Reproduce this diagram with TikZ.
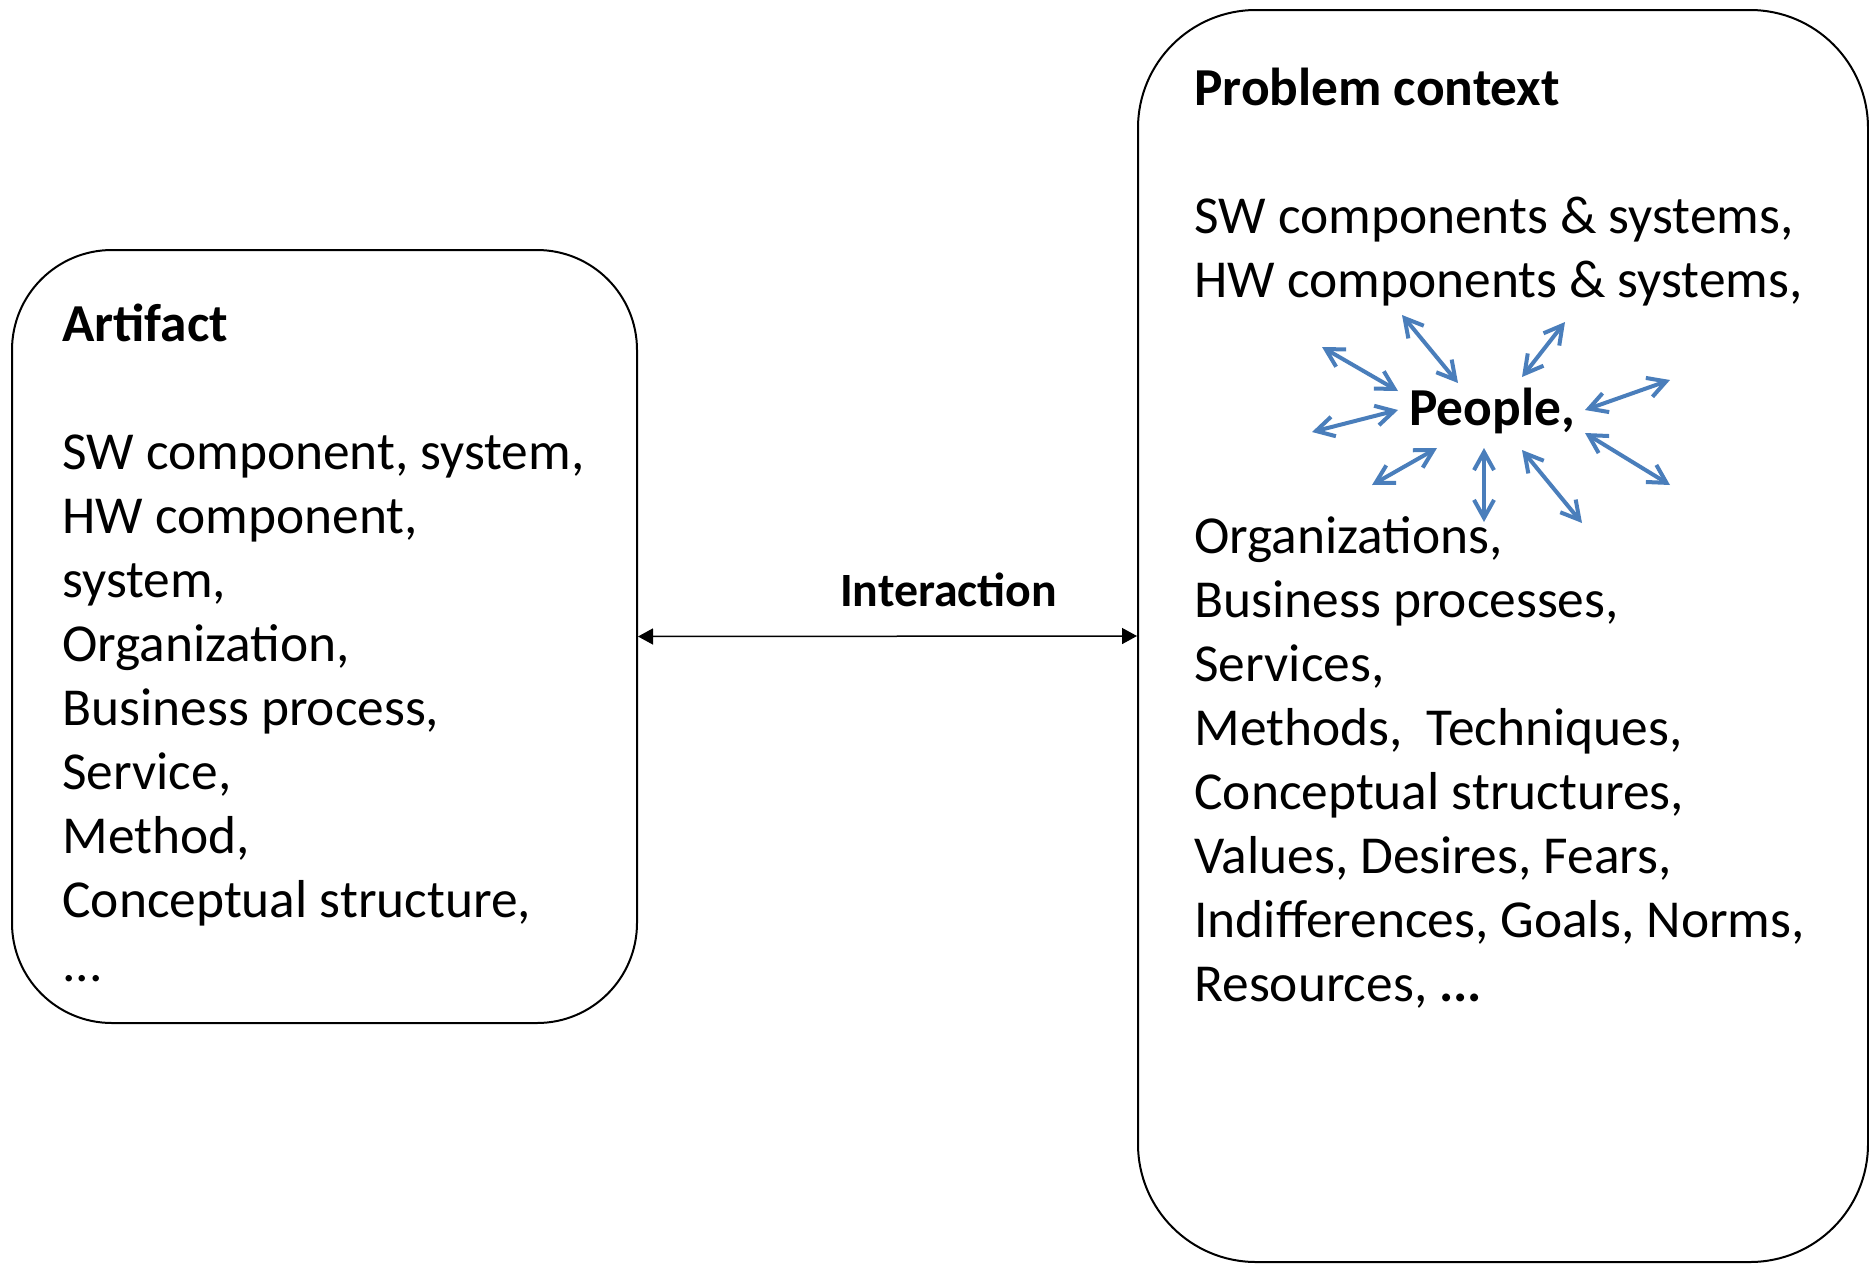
\documentclass[tikz,border=0pt]{standalone}
\usepackage{fontspec}
\setmainfont{Carlito}
\usepackage{xcolor}
\usepackage{tikz}
\usetikzlibrary{positioning,arrows.meta}
\definecolor{peopleblue}{RGB}{74,126,187}

\begin{document}
\begin{tikzpicture}[x=0.5pt,y=-0.5pt,
    roundbox/.style={draw,line width=1pt,rectangle,inner sep=0pt},
    itemtext/.style={anchor=base west,inner sep=0pt,align=left,font=\fontsize{26.7}{32}\selectfont},
    interarrow/.style={{Triangle[length=7.5pt,width=8pt]}-{Triangle[length=7.5pt,width=8pt]},line width=0.75pt},
    linkarrow/.style={{Straight Barb[length=9pt,width=10pt]}-{Straight Barb[length=9pt,width=10pt]},line width=2pt,peopleblue}]
    \useasboundingbox (0,0) rectangle (1869,1264);

    \node[roundbox,minimum width=312.5pt,minimum height=386.5pt,rounded corners=50pt] (artifact) at (324.5,636.5) {};
    \node[roundbox,minimum width=365pt,minimum height=626pt,rounded corners=59pt] (context) at (1503,636) {};

    \node[itemtext] (arttext) at (62,981) {\textbf{Artifact}\\[32pt] SW component, system,\\ HW component,\\ system,\\ Organization,\\ Business process,\\ Service,\\ Method,\\ Conceptual structure,\\ ...};

    \node[itemtext] (ctxtop) at (1194,297) {\textbf{Problem context}\\[32pt] SW components \& systems,\\ HW components \& systems,};
    \node[inner sep=0pt,anchor=base,font=\fontsize{26.7}{32}\selectfont\bfseries] (people) at (1492,425) {People,};
    \node[itemtext] (ctxlist) at (1194,1001) {Organizations,\\ Business processes,\\ Services,\\ Methods,\ \ Techniques,\\ Conceptual structures,\\ Values, Desires, Fears,\\ Indifferences, Goals, Norms,\\ Resources, \textbf{...}};

    \draw[interarrow] (artifact.east) -- (context.west);
    \node[inner sep=0pt,anchor=base,font=\fontsize{23.9}{28}\selectfont\bfseries] (interlabel) at (948.5,606) {Interaction};

    \foreach \i/\ax/\ay/\bx/\by in {1/1398/391/1322/347, 2/1458/383/1402/315, 3/1522/377/1565/322, 4/1585/410/1670/380, 5/1585/433/1670/485, 6/1522/450/1582/523, 7/1484/448/1484/522, 8/1437/448/1372/485, 9/1398/410/1312/432}{
        \coordinate (near\i) at (\ax,\ay);
        \coordinate (far\i) at (\bx,\by);
        \draw[linkarrow] (near\i) -- (far\i);
    }
\end{tikzpicture}
\end{document}
